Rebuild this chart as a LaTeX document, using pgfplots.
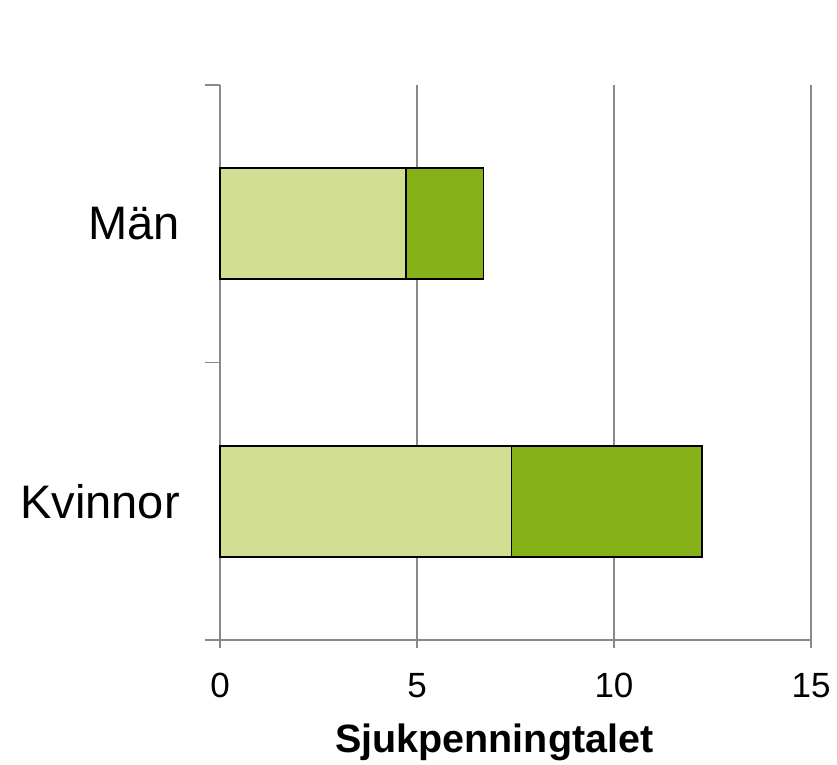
\documentclass[border=0pt]{standalone}
\usepackage{fontspec}
\setmainfont{Liberation Sans}
\usepackage{pgfplots}
\pgfplotsset{compat=1.18}

\definecolor{lightgreen}{RGB}{210,222,146}
\definecolor{darkgreen}{RGB}{134,178,25}
\definecolor{axisgray}{RGB}{137,137,137}

\begin{document}
\begin{tikzpicture}
\useasboundingbox (-220pt,-124pt) rectangle (617pt,640pt);
\begin{axis}[
  scale only axis,
  width=591pt, height=555pt,
  xbar stacked,
  bar width=0.4,
  xmin=0, xmax=15,
  ymin=-0.5, ymax=1.5,
  xtick={0,5,10,15},
  ytick={0,1},
  yticklabels={Kvinnor,Män},
  axis x line*=bottom,
  axis y line*=left,
  axis line style={axisgray, line width=1.2pt},
  xmajorgrids,
  major grid style={axisgray, line width=1.2pt},
  major tick length=8pt,
  tick align=outside,
  x tick style={axisgray, line width=1.2pt},
  y tick style={draw=none},
  extra y ticks={-0.5,0.5,1.5},
  extra y tick labels={},
  extra y tick style={major tick length=15pt, y tick style={draw=axisgray, line width=1.2pt}, ymajorgrids=false},
  /pgf/number format/assume math mode=true,
  xticklabel style={font=\fontsize{35}{42}\selectfont, inner sep=0pt, anchor=north, yshift=-25pt},
  yticklabel style={font=\fontsize{47}{56}\selectfont, inner sep=0pt, anchor=east, xshift=-32pt},
  xlabel={\textbf{Sjukpenningtalet}},
  xlabel style={font=\fontsize{39.5}{46}\selectfont, at={(axis description cs:0.464,0)}, anchor=base, yshift=-112pt},
  clip=false,
]
\addplot[fill=lightgreen, draw=black, line width=1.8pt] coordinates {(7.4,0) (4.73,1)};
\addplot[fill=darkgreen, draw=black, line width=1.8pt] coordinates {(4.84,0) (1.96,1)};
\end{axis}
\end{tikzpicture}
\end{document}
